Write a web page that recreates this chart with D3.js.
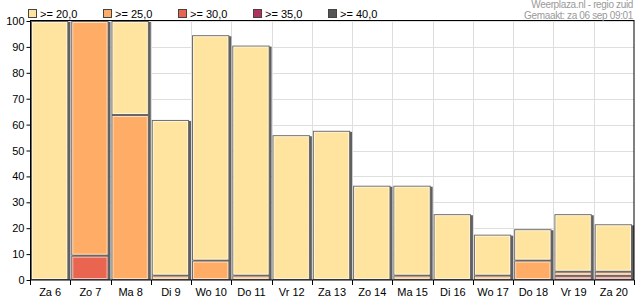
<!doctype html>
<html>
<head>
<meta charset="utf-8" />
<script src="https://cdn.jsdelivr.net/npm/d3@7"></script>
<style>
  body { margin: 0; background: #fff; }
  text { font-family: "Liberation Sans", Arial, sans-serif; }
</style>
</head>
<body>
<script>
 // categories and stacked segment heights per temperature class
 var days = ["Za 6", "Zo 7", "Ma 8", "Di 9", "Wo 10", "Do 11", "Vr 12", "Za 13",
             "Zo 14", "Ma 15", "Di 16", "Wo 17", "Do 18", "Vr 19", "Za 20"];
 var ge20 = [100, 0, 36.3, 60.1, 87.0, 88.8, 55.9, 57.6, 36.4, 34.7, 25.4, 15.8, 12.1, 22.2, 18.3];
 var ge25 = [0, 90.6, 63.7, 1.7, 7.5, 1.7, 0, 0, 0, 1.7, 0, 1.7, 7.5, 1.6, 1.6];
 var ge30 = [0, 9.4, 0, 0, 0, 0, 0, 0, 0, 0, 0, 0, 0, 1.6, 1.6];
 var ge35 = [0, 0, 0, 0, 0, 0, 0, 0, 0, 0, 0, 0, 0, 0, 0];
 var ge40 = [0, 0, 0, 0, 0, 0, 0, 0, 0, 0, 0, 0, 0, 0, 0];
 var legendLabels = [">= 20,0", ">= 25,0", ">= 30,0", ">= 35,0", ">= 40,0"];
 var yTicks = [0, 10, 20, 30, 40, 50, 60, 70, 80, 90, 100];

 var colors = {ge20: "#ffe49f", ge25: "#feac66", ge30: "#ea6550", ge35: "#b3305e", ge40: "#555555"};
 var legendKeys = ["ge20", "ge25", "ge30", "ge35", "ge40"];

 var w = 635, h = 300;
 var pLeft = 30, pRight = 634, pTop = 21, pBottom = 280;

 var svg = d3.select("body").append("svg")
     .attr("width", w).attr("height", h);

 var xScale = d3.scaleBand().domain(d3.range(days.length)).range([pLeft, pRight]);
 var yScale = d3.scaleLinear().domain([0, 100]).range([pBottom, pTop]);

 var table = days.map(function(d, i){
     return {day: d, ge20: ge20[i], ge25: ge25[i], ge30: ge30[i], ge35: ge35[i], ge40: ge40[i]};
 });
 // hottest class at the bottom
 var stack = d3.stack().keys(["ge40", "ge35", "ge30", "ge25", "ge20"]);
 var series = stack(table);

 var total = function(d){ return Math.min(100, d.ge20 + d.ge25 + d.ge30 + d.ge35 + d.ge40); };

 // grid
 var grid = svg.append("g");
 grid.selectAll(".hg").data(yTicks.slice(1)).enter().append("line")
     .attr("x1", pLeft).attr("x2", pRight)
     .attr("y1", function(d){ return Math.round(yScale(d)) + 0.5; })
     .attr("y2", function(d){ return Math.round(yScale(d)) + 0.5; })
     .attr("stroke", "#dedede");
 grid.selectAll(".vg").data(d3.range(1, days.length)).enter().append("line")
     .attr("x1", function(i){ return Math.round(xScale(i)) + 0.5; })
     .attr("x2", function(i){ return Math.round(xScale(i)) + 0.5; })
     .attr("y1", pTop).attr("y2", pBottom)
     .attr("stroke", "#dedede");

 var bw = xScale.bandwidth();

 // shadows
 svg.append("g").selectAll("rect").data(table).enter().append("rect")
     .attr("x", function(d, i){ return xScale(i) + 3; })
     .attr("y", function(d){ return yScale(total(d)) + 1; })
     .attr("width", bw - 3)
     .attr("height", function(d){ return pBottom - yScale(total(d)) - 1; })
     .attr("fill", "#606060");

 // segments
 var layers = svg.append("g").selectAll("g").data(series).enter().append("g");
 layers.each(function(s){
     var g = d3.select(this);
     var data = s.map(function(d, i){ return {d: d, i: i}; })
                 .filter(function(o){ return o.d[1] - o.d[0] > 0; });
     g.selectAll("rect.seg").data(data).enter().append("rect")
         .attr("x", function(o){ return xScale(o.i) + 1.5; })
         .attr("y", function(o){ return yScale(o.d[1]) + 0.5; })
         .attr("width", bw - 4)
         .attr("height", function(o){ return yScale(o.d[0]) - yScale(o.d[1]) - 1; })
         .attr("fill", colors[s.key])
         .attr("stroke", "#666");
     g.selectAll("rect.hi").data(data).enter().append("rect")
         .attr("x", function(o){ return xScale(o.i) + 2.5; })
         .attr("y", function(o){ return yScale(o.d[1]) + 1.5; })
         .attr("width", bw - 6)
         .attr("height", function(o){ return Math.max(0, yScale(o.d[0]) - yScale(o.d[1]) - 3); })
         .attr("fill", "none")
         .attr("stroke", "#fff")
         .attr("stroke-opacity", 0.6);
 });

 // frame
 svg.append("rect")
     .attr("x", pLeft + 0.5).attr("y", pTop - 0.5)
     .attr("width", pRight - pLeft - 0.5).attr("height", pBottom - pTop + 0.5)
     .attr("fill", "none").attr("stroke", "#000");

 // y axis
 var yAxis = d3.axisLeft(yScale).tickValues(yTicks).tickSize(4).tickPadding(2);
 svg.append("g").attr("transform", "translate(" + (pLeft + 0.5) + ",0)")
     .call(yAxis)
     .call(function(g){ g.select(".domain").remove(); })
     .selectAll("text").attr("font-size", "11px").attr("fill", "#000")
     .style("font-family", "'Liberation Sans', Arial, sans-serif");

 // x axis: ticks at band boundaries, labels centered
 var xg = svg.append("g");
 xg.selectAll("line").data(d3.range(0, days.length + 1)).enter().append("line")
     .attr("x1", function(i){ return Math.round(i < days.length ? xScale(i) : pRight) + 0.5; })
     .attr("x2", function(i){ return Math.round(i < days.length ? xScale(i) : pRight) + 0.5; })
     .attr("y1", pBottom).attr("y2", pBottom + 5)
     .attr("stroke", "#000");
 xg.selectAll("text").data(days).enter().append("text")
     .attr("x", function(d, i){ return xScale(i) + bw / 2; })
     .attr("y", 296)
     .attr("text-anchor", "middle")
     .attr("font-size", "11px")
     .text(function(d){ return d; });

 // legend
 var lg = svg.append("g").selectAll("g").data(legendKeys).enter().append("g")
     .attr("transform", function(d, i){ return "translate(" + (28 + i * 75) + ",0)"; });
 lg.append("rect").attr("x", 0.5).attr("y", 9.5).attr("width", 8).attr("height", 8)
     .attr("fill", function(d){ return colors[d]; })
     .attr("stroke", "#444");
 lg.append("text").attr("x", 12).attr("y", 17.5).attr("font-size", "11px")
     .text(function(d, i){ return legendLabels[i]; });

 // credits
 svg.append("text").attr("x", 633).attr("y", 8).attr("text-anchor", "end")
     .attr("font-size", "10px").attr("fill", "#9a9a9a").attr("letter-spacing", "-0.35px")
     .text("Weerplaza.nl - regio zuid");
 svg.append("text").attr("x", 633).attr("y", 19).attr("text-anchor", "end")
     .attr("font-size", "10px").attr("fill", "#9a9a9a").attr("letter-spacing", "-0.35px")
     .text("Gemaakt: za 06 sep 09:01");
</script>
</body>
</html>
